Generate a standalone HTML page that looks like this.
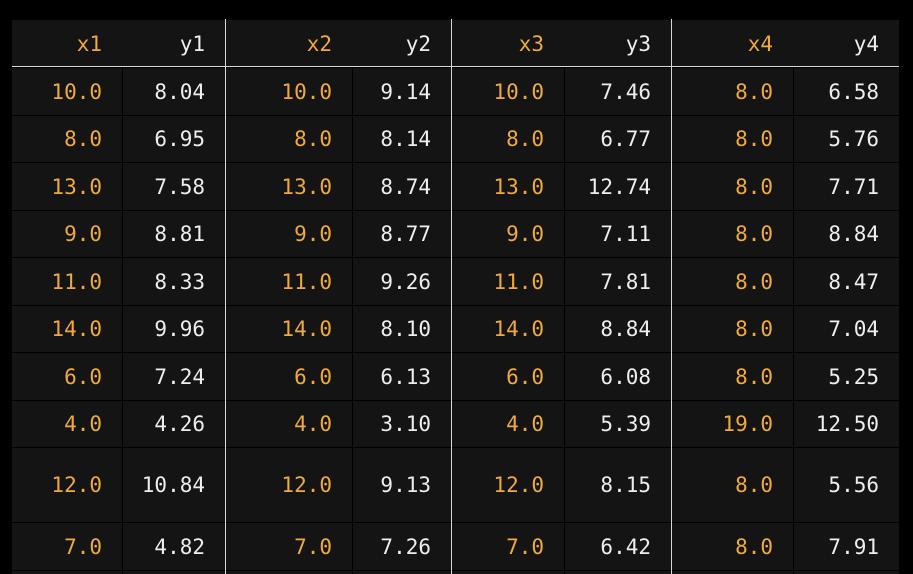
<!DOCTYPE html>
<html><head><meta charset="utf-8">
<style>
html,body{margin:0;padding:0;background:#000;width:913px;height:574px;overflow:hidden}
#t{position:absolute;left:0;top:0;width:913px;height:574px;overflow:hidden}
.c{position:absolute;background:#141414;box-sizing:border-box;font-family:"DejaVu Sans Mono","Liberation Mono",monospace;font-size:21px;text-align:right;padding-right:20px;display:flex;align-items:center;justify-content:flex-end;overflow:hidden}
.x{color:#f0aa3c}.y{color:#eeeeee}
.vl{position:absolute;width:1px;background:#d8d8d8;top:19px;height:555px}
.hl{position:absolute;height:1px;background:#d8d8d8;left:12px;width:887px;top:66px}
</style></head><body>
<div id="t"></div>
<script>
const headers=["x1","y1","x2","y2","x3","y3","x4","y4"];
const x1=["10.0","8.0","13.0","9.0","11.0","14.0","6.0","4.0","12.0","7.0","5.0"];
const y1=["8.04","6.95","7.58","8.81","8.33","9.96","7.24","4.26","10.84","4.82","5.68"];
const x2=["10.0","8.0","13.0","9.0","11.0","14.0","6.0","4.0","12.0","7.0","5.0"];
const y2=["9.14","8.14","8.74","8.77","9.26","8.10","6.13","3.10","9.13","7.26","4.74"];
const x3=["10.0","8.0","13.0","9.0","11.0","14.0","6.0","4.0","12.0","7.0","5.0"];
const y3=["7.46","6.77","12.74","7.11","7.81","8.84","6.08","5.39","8.15","6.42","5.73"];
const x4=["8.0","8.0","8.0","8.0","8.0","8.0","8.0","19.0","8.0","8.0","8.0"];
const y4=["6.58","5.76","7.71","8.84","8.47","7.04","5.25","12.50","5.56","7.91","6.89"];
const cols=[x1,y1,x2,y2,x3,y3,x4,y4];
const colEdges=[12,122,225,352,451,564,671,793,899];
const rowEdges=[67,115,162,210,257,305,352,400,447,522,570,574];
const t=document.getElementById('t');
for(let c=0;c<8;c++){
  const h=document.createElement('div');
  h.className='c '+(c%2?'y':'x');
  h.style.left=colEdges[c]+'px';h.style.width=(colEdges[c+1]-colEdges[c])+'px';
  h.style.top='20px';h.style.height='47px';
  h.textContent=headers[c];
  
  
  t.appendChild(h);
  for(let r=0;r<cols[c].length;r++){
    const d=document.createElement('div');
    d.className='c '+(c%2?'y':'x');
    const l=colEdges[c]+(c%2?1:0);
    d.style.left=l+'px';d.style.width=(colEdges[c+1]-l)+'px';
    d.style.top=(rowEdges[r]+1)+'px';d.style.height=(rowEdges[r+1]-rowEdges[r]-1)+'px';
    if(r<10) d.textContent=cols[c][r]; else d.title=cols[c][r];
    
    
    t.appendChild(d);
  }
}
[225,451,671].forEach((x,i)=>{
  const v=document.createElement('div');v.className='vl';v.style.left=x+'px';
  
  
  t.appendChild(v);
});
const hl=document.createElement('div');hl.className='hl';


t.appendChild(hl);
</script>
</body></html>
